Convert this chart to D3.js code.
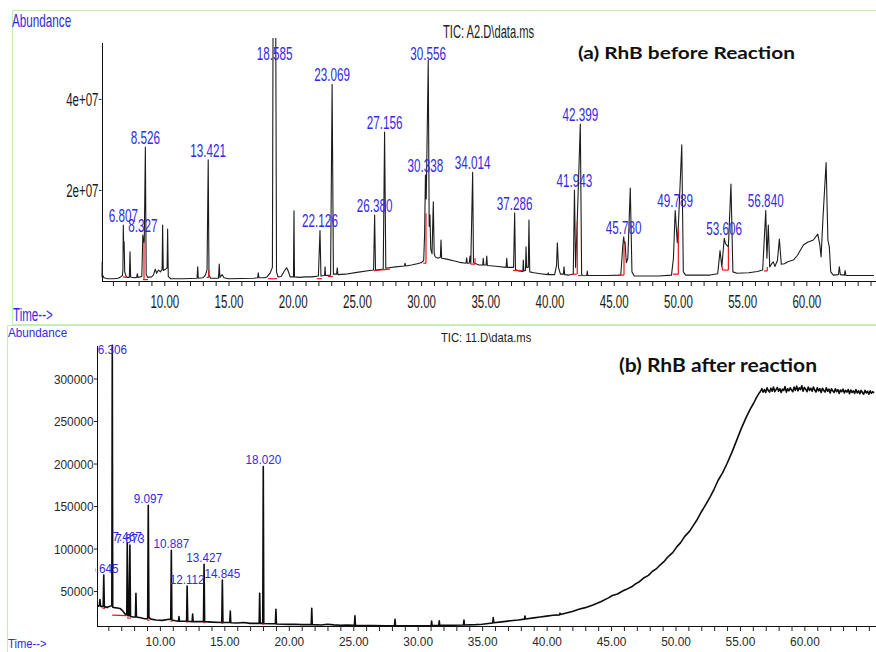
<!DOCTYPE html>
<html>
<head>
<meta charset="utf-8">
<script src="https://cdn.jsdelivr.net/npm/d3@7"></script>
<style>
  html, body { margin: 0; padding: 0; background: #fff; }
  svg { display: block; }
  text { font-family: "Liberation Sans", Arial, sans-serif; }
  .title { font-family: Lato, "Open Sans", sans-serif; font-weight: 700; }
</style>
</head>
<body>
<svg id="chart" width="876" height="652"></svg>
<script>
// ---------------- Panel (a): RhB before reaction ----------------
// TIC trace, [retention time (min), abundance (millions of counts)]
const traceA = [
  [5.11, 0.9], [5.14, 4.2], [5.18, 1.4], [5.3, 0.7], [5.6, 0.5], [6.0, 0.5], [6.4, 0.6],
  [6.6, 0.9], [6.74, 1.2], [6.78, 2.5], [6.84, 7.0], [6.87, 8.6], [6.92, 2.0], [7.05, 0.8],
  [7.28, 0.8], [7.33, 6.4], [7.38, 0.9], [7.6, 0.7], [7.85, 0.8], [7.9, 1.6], [7.95, 0.8],
  [8.25, 1.0], [8.40, 8.4], [8.44, 8.6], [8.59, 1.5], [8.7, 0.8], [9.0, 0.9], [9.15, 1.3],
  [9.3, 2.6], [9.4, 1.7], [9.55, 2.4], [9.7, 2.0], [9.83, 2.6], [9.87, 12.3], [9.92, 2.3],
  [10.1, 2.6], [10.22, 2.9], [10.26, 11.4], [10.31, 1.0], [10.5, 0.5], [11.0, 0.5], [11.5, 0.5],
  [12.0, 0.55], [12.55, 0.6], [12.6, 3.1], [12.65, 0.6], [13.0, 0.7], [13.2, 1.3], [13.33, 2.5],
  [13.48, 1.4], [13.6, 0.6], [14.22, 0.6], [14.28, 3.7], [14.33, 0.8], [14.5, 1.4], [14.65, 0.7],
  [15.0, 0.5], [16.0, 0.55], [17.0, 0.6], [17.27, 0.7], [17.32, 1.8], [17.37, 0.7], [17.8, 0.7],
  [18.0, 0.9], [18.25, 1.8], [18.42, 3.0], [18.47, 56.0], [18.68, 56.0], [18.74, 2.0], [18.85, 0.9],
  [19.1, 1.0], [19.35, 2.2], [19.53, 2.9], [19.65, 2.2], [19.8, 0.9], [20.06, 0.9], [20.10, 15.4],
  [20.14, 0.9], [20.5, 0.8], [21.0, 0.9], [21.5, 0.9], [22.0, 1.1], [22.2, 1.1], [22.48, 1.2],
  [22.52, 3.1], [22.56, 1.2], [22.95, 1.3], [23.17, 1.5], [23.42, 1.5], [23.47, 2.9], [23.52, 1.4],
  [24.1, 1.5], [25.0, 1.9], [26.0, 2.3], [26.3, 2.4], [26.45, 2.4], [27.05, 2.6], [27.25, 2.8],
  [27.5, 2.9], [28.0, 3.1], [28.7, 3.3], [28.75, 3.9], [28.8, 3.3], [29.25, 3.5], [29.7, 3.8],
  [30.0, 4.0], [30.2, 4.5], [30.27, 10.0], [30.40, 18.0], [30.63, 12.0], [30.69, 14.5],
  [30.75, 7.0], [30.85, 6.0], [30.95, 17.4], [31.02, 6.0], [31.1, 5.3], [31.3, 5.0], [31.5, 5.2],
  [31.55, 9.0], [31.6, 5.0], [32.0, 4.8], [32.6, 4.4], [33.0, 4.1], [33.5, 3.9], [33.55, 5.1],
  [33.6, 3.9], [33.75, 3.9], [33.81, 5.5], [33.87, 3.8], [34.08, 4.0], [34.5, 3.5], [34.8, 3.5],
  [34.84, 5.0], [34.88, 3.5], [35.06, 3.5], [35.11, 5.5], [35.16, 3.4], [35.6, 3.3], [36.0, 3.2],
  [36.62, 3.0], [36.67, 5.0], [36.72, 3.0], [37.2, 3.0], [37.35, 2.5], [37.6, 2.2], [37.92, 2.1],
  [37.96, 4.6], [38.0, 2.2], [38.13, 2.3], [38.17, 7.5], [38.22, 3.0], [38.35, 3.0], [38.4, 13.4],
  [38.46, 2.0], [38.8, 1.8], [39.3, 1.6], [39.86, 1.4], [39.9, 1.8], [39.94, 1.4], [40.4, 1.4],
  [40.55, 3.5], [40.61, 8.4], [40.7, 3.0], [40.85, 1.5], [41.08, 1.5], [41.13, 3.1], [41.18, 1.4],
  [41.5, 1.3], [41.85, 1.5], [42.03, 3.0], [42.16, 13.2], [42.5, 1.5], [42.6, 1.2], [42.9, 1.2],
  [42.94, 2.2], [42.98, 1.2], [43.5, 1.2], [44.5, 1.2], [45.55, 1.3], [45.7, 7.5], [45.83, 8.2],
  [45.88, 8.6], [45.98, 4.0], [46.1, 5.0], [46.29, 20.4], [46.42, 2.0], [46.6, 1.1], [47.5, 1.1],
  [48.5, 1.1], [49.5, 1.3], [49.65, 5.0], [49.95, 8.4], [50.03, 11.8], [50.30, 29.9], [50.42, 2.0],
  [50.6, 1.3], [51.5, 1.3], [52.5, 1.3], [53.1, 1.6], [53.28, 6.7], [53.42, 3.1], [53.7, 8.2],
  [53.8, 7.9], [53.93, 7.5], [54.13, 21.3], [54.28, 2.0], [54.6, 1.7], [55.5, 1.8], [56.2, 2.1],
  [56.6, 2.4], [56.93, 5.0], [57.04, 12.3], [57.15, 3.1], [57.3, 3.8], [57.43, 4.2], [57.55, 3.2],
  [57.75, 4.5], [57.9, 9.2], [58.05, 3.7], [58.3, 3.8], [58.6, 4.3], [58.99, 4.6], [59.3, 5.6],
  [59.77, 7.9], [60.1, 8.5], [60.55, 9.0], [60.89, 10.3], [61.05, 8.0], [61.15, 5.3], [61.3, 14.0],
  [61.54, 26.0], [61.68, 9.0], [61.79, 7.5], [61.9, 2.0], [62.1, 1.3], [62.5, 1.4], [62.57, 3.1],
  [62.65, 1.4], [62.97, 1.3], [63.02, 2.3], [63.08, 1.2], [63.5, 1.2], [64.5, 1.2], [65.27, 1.2]
];
// labelled peaks: retention time and apex abundance (millions)
const peakRtA   = [6.807, 8.327, 8.526, 13.421, 18.585, 22.126, 23.069, 26.380, 27.156, 30.338,
                   30.556, 34.014, 37.286, 41.943, 42.399, 45.780, 49.789, 53.606, 56.840];
const peakApexA = [12.3, 10.1, 29.4, 26.6, 58.0, 11.1, 43.2, 14.5, 32.7, 23.3,
                   48.5, 23.9, 15.0, 20.0, 34.5, 9.7, 15.5, 9.4, 15.5];
// integration baselines / drop lines (red)
const integrationA = [
  [[6.78, 0.9], [7.09, 0.8]],
  [[8.34, 0.3], [8.73, 0.3]], [[8.42, 0.3], [8.42, 8.6]],
  [[13.30, 0.8], [13.48, 0.8]], [[13.46, 0.8], [13.46, 2.4]],
  [[18.08, 0.5], [18.78, 0.5]],
  [[21.89, 0.5], [22.28, 0.5]], [[22.74, 1.0], [23.14, 1.0]],
  [[26.33, 2.3], [27.58, 2.6]],
  [[30.17, 3.9], [30.38, 3.9]], [[30.38, 3.9], [30.38, 14.9]],
  [[33.86, 3.7], [34.2, 3.7]], [[34.2, 3.7], [34.2, 5.0]],
  [[37.16, 2.3], [37.86, 2.3]],
  [[41.73, 1.5], [42.12, 1.5]], [[42.16, 1.5], [42.16, 13.2]], [[42.22, 1.2], [42.84, 1.2]],
  [[45.33, 1.3], [45.8, 1.3]], [[45.8, 1.3], [45.8, 8.6]],
  [[49.6, 1.5], [50.03, 1.5]], [[50.03, 1.5], [50.03, 11.8]],
  [[53.46, 2.4], [53.93, 2.4]], [[53.93, 2.4], [53.93, 7.5]], [[53.46, 2.4], [53.46, 3.1]],
  [[56.7, 2.2], [56.96, 2.2]], [[56.96, 2.2], [56.96, 3.1]]
];
const yTickValuesA = [20, 40];
const yTickLabelsA = ["2e+07", "4e+07"];

// ---------------- Panel (b): RhB after reaction ----------------
// TIC trace, [retention time (min), abundance (counts)]
const traceB = [
  [5.12, 33500], [5.2, 32000], [5.3, 33000], [5.35, 40000], [5.4, 32000], [5.5, 31500],
  [5.6, 32500], [5.69, 31000], [5.8, 31500], [5.9, 30500], [6.0, 31600], [6.1, 32000],
  [6.2, 32500], [6.27, 33000], [6.34, 31000], [6.5, 30500], [6.7, 30000], [6.9, 29500],
  [7.1, 27000], [7.3, 23000], [7.43, 22000], [7.52, 21000], [7.6, 21000], [7.72, 20000],
  [7.9, 19500], [8.1, 19500], [8.14, 47400], [8.18, 19500], [8.5, 18500], [8.8, 17500],
  [9.05, 17500], [9.15, 19000], [9.3, 17000], [9.7, 16000], [10.2, 15500], [10.6, 16500],
  [10.84, 17000], [10.93, 16000], [11.2, 15000], [11.44, 14500], [11.48, 20000], [11.52, 14500],
  [12.07, 14500], [12.16, 14500], [12.5, 14000], [12.54, 23000], [12.58, 14000], [13.38, 14000],
  [13.47, 14000], [14.0, 13500], [14.8, 13000], [14.89, 13000], [15.42, 13000], [15.46, 26600],
  [15.5, 12800], [16.0, 12500], [16.5, 13000], [17.0, 12000], [17.7, 12000], [17.74, 47400],
  [17.78, 12000], [17.98, 12000], [18.06, 11800], [18.5, 11500], [18.96, 11500], [19.0, 28500],
  [19.04, 11300], [19.5, 11000], [20.0, 10800], [20.5, 11000], [21.0, 10500], [21.74, 10500],
  [21.78, 29700], [21.82, 10500], [22.5, 10000], [23.0, 11000], [23.5, 10200], [24.0, 9800],
  [24.5, 10000], [25.09, 9800], [25.13, 21000], [25.17, 9800], [25.6, 9500], [26.5, 9300],
  [27.5, 9200], [28.2, 9300], [28.24, 16800], [28.28, 9300], [29.0, 9200], [30.0, 9000],
  [31.04, 9500], [31.08, 14800], [31.12, 9500], [31.63, 9500], [31.67, 15000], [31.71, 9600],
  [32.5, 9800], [33.55, 10000], [33.59, 16000], [33.63, 10000], [34.5, 10500], [35.0, 11000],
  [35.82, 12500], [35.86, 18700], [35.9, 12800], [36.5, 13800], [37.2, 15000], [37.8, 16000],
  [38.28, 17000], [38.32, 20700], [38.36, 17200], [39.0, 18500], [39.5, 19500], [40.0, 20500],
  [40.5, 21500], [41.0, 22000], [41.04, 24000], [41.1, 22500], [41.6, 24500], [42.0, 26000],
  [42.5, 28500], [43.0, 30500], [43.6, 33600], [44.2, 37500], [44.8, 42000], [45.1, 44800],
  [45.5, 46500], [45.9, 50000], [46.2, 52000], [46.6, 55000], [46.9, 58500], [47.2, 61000],
  [47.5, 65000], [47.9, 68500], [48.2, 73000], [48.5, 76000], [48.8, 80600], [49.1, 84500],
  [49.4, 90000], [49.8, 95500], [50.1, 102000], [50.4, 107000], [50.7, 114000], [51.1, 120500],
  [51.4, 127600], [51.7, 134500], [52.0, 143000], [52.3, 150500], [52.7, 161000], [53.0, 170000],
  [53.3, 180000], [53.65, 189000], [54.0, 200000], [54.4, 214000], [54.75, 227500], [55.1, 241000],
  [55.5, 254900], [55.8, 264000], [56.05, 270600], [56.3, 278000], [56.5, 283000],
  [56.6, 285000], [56.7, 288000], [56.8, 284000], [56.9, 287000], [57.0, 283500], [57.1, 289000],
  [57.2, 286000], [57.3, 284000], [57.4, 288500], [57.5, 285000], [57.6, 290000], [57.7, 284500],
  [57.8, 287000], [57.9, 289500], [58.0, 285000], [58.1, 288000], [58.2, 283500], [58.3, 287500],
  [58.4, 286000], [58.5, 290500], [58.6, 284000], [58.7, 288000], [58.8, 285500], [58.9, 289000],
  [59.0, 286500], [59.1, 284500], [59.2, 290000], [59.3, 286000], [59.4, 291000], [59.5, 285500],
  [59.6, 289000], [59.7, 287000], [59.8, 291500], [59.9, 285000], [60.0, 289500], [60.1, 287500],
  [60.2, 284500], [60.3, 290000], [60.4, 286000], [60.5, 288500], [60.6, 285000], [60.7, 290000],
  [60.8, 286500], [60.9, 284000], [61.0, 289000], [61.1, 285500], [61.2, 288000], [61.3, 283500],
  [61.4, 288500], [61.5, 286000], [61.6, 284000], [61.7, 289000], [61.8, 285000], [61.9, 287500],
  [62.0, 283000], [62.1, 288000], [62.2, 285500], [62.3, 283500], [62.4, 288000], [62.5, 284500],
  [62.6, 287000], [62.7, 282500], [62.8, 286500], [62.9, 284500], [63.0, 287500], [63.1, 283000],
  [63.2, 286000], [63.3, 284000], [63.4, 287000], [63.5, 282000], [63.6, 286500], [63.7, 283500],
  [63.8, 285500], [63.9, 282500], [64.0, 287000], [64.1, 283000], [64.2, 285500], [64.3, 282000],
  [64.4, 286000], [64.5, 283500], [64.6, 281500], [64.7, 286000], [64.8, 283000], [64.9, 285000],
  [65.0, 281500], [65.1, 285500], [65.2, 282500], [65.3, 284500], [65.4, 283000]
];
const peakRtB   = [5.645, 6.306, 7.467, 7.673, 9.097, 10.887, 12.112, 13.427, 14.845, 18.020];
const peakApexB = [68900, 339000, 107000, 104000, 151000, 98000, 56000, 81400, 63000, 196500];
const integrationB = [
  [[5.55, 30000], [5.75, 29500]],
  [[6.3, 21800], [7.45, 21000]],
  [[7.45, 18500], [7.75, 18000]],
  [[9.0, 16000], [9.2, 15500]],
  [[10.8, 15000], [11.0, 14500]],
  [[12.05, 13500], [12.2, 13500]],
  [[13.35, 13000], [13.5, 13000]],
  [[14.78, 12200], [14.92, 12200]],
  [[17.95, 11200], [18.12, 11000]]
];
const yTickValuesB = [50000, 100000, 150000, 200000, 250000, 300000];
const yTickLabelsB = ["50000", "100000", "150000", "200000", "250000", "300000"];

// shared time axis
const xTickValues = [10, 15, 20, 25, 30, 35, 40, 45, 50, 55, 60];
const xTickLabels = ["10.00", "15.00", "20.00", "25.00", "30.00", "35.00", "40.00", "45.00", "50.00", "55.00", "60.00"];
const minuteTicks = d3.range(6, 66);

// ---------------- drawing ----------------
const svg = d3.select("#chart");
const BLUE = "#3428e6";
const GREEN = "#c4efb4";

// text squeezed horizontally, the way the instrument software prints it
function squeezed(g, x, y, str, size, sx, color, anchor) {
  return g.append("text")
    .attr("transform", `translate(${x},${y}) scale(${sx},1)`)
    .attr("text-anchor", anchor || "start")
    .style("font-size", size + "px")
    .style("fill", color)
    .text(str);
}

function panel(cfg) {
  const g = svg.append("g");
  const x = d3.scaleLinear().domain(cfg.xDomain).range(cfg.xRange);
  const y = d3.scaleLinear().domain(cfg.yDomain).range(cfg.yRange);
  const clipId = "clip-" + cfg.id;
  svg.append("clipPath").attr("id", clipId).append("rect")
    .attr("x", cfg.xRange[0]).attr("y", cfg.yRange[1] - 4)
    .attr("width", 876 - cfg.xRange[0]).attr("height", cfg.yRange[0] - cfg.yRange[1] + 4);
  const labelClipId = "labclip-" + cfg.id;
  svg.append("clipPath").attr("id", labelClipId).append("rect")
    .attr("x", cfg.xRange[0] - 2).attr("y", cfg.yRange[1] - 6)
    .attr("width", 878 - cfg.xRange[0]).attr("height", cfg.yRange[0] - cfg.yRange[1] + 6);

  // merge labelled apices into the trace
  const series = cfg.trace.concat(cfg.peakRt.map((t, i) => [t, cfg.peakApex[i]]))
    .sort((a, b) => a[0] - b[0]);

  const line = d3.line().x(d => x(d[0])).y(d => y(d[1]));

  // x axis: minute ticks, labels every 5 min
  const xAxis = g.append("g")
    .attr("transform", `translate(0,${cfg.yRange[0]})`)
    .call(d3.axisBottom(x).tickValues(minuteTicks).tickSize(5).tickSizeOuter(0)
      .tickFormat(d => { const i = xTickValues.indexOf(d); return i >= 0 ? xTickLabels[i] : ""; }));
  xAxis.select(".domain").attr("stroke", "#111").attr("d", `M${cfg.xRange[0]},0.5H876`);
  xAxis.selectAll(".tick line").attr("stroke", "#222");
  xAxis.selectAll(".tick text")
    .attr("y", 0).attr("dy", 0)
    .attr("transform", `translate(0,${cfg.xLabelOffset}) scale(${cfg.tickSx},1)`)
    .style("font-size", cfg.tickSize + "px").style("fill", cfg.tickColor);

  // y axis
  const yAxis = g.append("g")
    .attr("transform", `translate(${cfg.xRange[0]},0)`)
    .call(d3.axisLeft(y).tickValues(cfg.yTicks).tickSize(cfg.yTickLen).tickPadding(0).tickSizeOuter(0)
      .tickFormat((d, i) => cfg.yLabels[i]));
  yAxis.select(".domain").attr("stroke", "#111");
  yAxis.selectAll(".tick line").attr("stroke", "#222");
  yAxis.selectAll(".tick text")
    .attr("x", 0).attr("dy", "0.35em")
    .attr("transform", `translate(${-cfg.yTickLen - 0.5},0) scale(${cfg.tickSx},1)`)
    .style("font-size", cfg.tickSize + "px").style("fill", cfg.tickColor);
  g.selectAll(".domain").attr("shape-rendering", "crispEdges");

  // trace
  g.append("path").datum(series)
    .attr("clip-path", `url(#${clipId})`)
    .attr("d", line)
    .attr("fill", "none").attr("stroke", cfg.traceColor)
    .attr("stroke-width", cfg.traceWidth).attr("stroke-linejoin", "round");

  // integration marks
  g.append("g").attr("clip-path", `url(#${clipId})`)
    .selectAll("path").data(cfg.integration).join("path")
    .attr("d", line).attr("fill", "none").attr("stroke", "#e8181c").attr("stroke-width", 1.2);

  // peak labels: centred over the apex, kept inside the frame
  const lab = g.append("g").attr("clip-path", `url(#${labelClipId})`);
  cfg.peakRt.forEach((t, i) => {
    const py = Math.max(y(cfg.peakApex[i]) - cfg.labelGap, cfg.labelMinY);
    squeezed(lab, x(t), py, d3.format(".3f")(t), cfg.labelSize, cfg.labelSx, BLUE, "middle");
  });
  return { x, y };
}

// frames
svg.append("path").attr("d", "M876,10.5H12.5V324.5H876").attr("fill", "none").attr("stroke", GREEN);
svg.append("path").attr("d", "M876,325.5H7.5V652").attr("fill", "none").attr("stroke", GREEN);

panel({
  id: "a", trace: traceA, peakRt: peakRtA, peakApex: peakApexA, integration: integrationA,
  xDomain: [5.11, 65.27], xRange: [101.5, 874],
  yDomain: [0, 52.5], yRange: [281, 42],
  yTicks: yTickValuesA, yLabels: yTickLabelsA, yTickLen: 2.5,
  tickSize: 18, tickSx: 0.64, tickColor: "#1a1a1a", xLabelOffset: 27,
  traceColor: "#1c1c1c", traceWidth: 1.1,
  labelGap: 3, labelMinY: 60, labelSize: 18, labelSx: 0.65
});

panel({
  id: "b", trace: traceB, peakRt: peakRtB, peakApex: peakApexB, integration: integrationB,
  xDomain: [5.12, 65.4], xRange: [97, 874],
  yDomain: [8900, 339400], yRange: [626, 345],
  yTicks: yTickValuesB, yLabels: yTickLabelsB, yTickLen: 3,
  tickSize: 13.5, tickSx: 0.88, tickColor: "#2a2a2a", xLabelOffset: 20,
  traceColor: "#0d0d0d", traceWidth: 1.6,
  labelGap: 2, labelMinY: 354, labelSize: 13, labelSx: 0.9
});

// headers and axis captions
squeezed(svg, 12, 27, "Abundance", 18, 0.65, BLUE);
squeezed(svg, 13, 321, "Time-->", 19, 0.61, BLUE);
squeezed(svg, 443, 38, "TIC: A2.D\\data.ms", 18, 0.62, "#222");
svg.append("text").attr("class", "title").attr("x", 578).attr("y", 59)
  .attr("textLength", 217).attr("lengthAdjust", "spacingAndGlyphs")
  .style("font-size", "17.5px").style("fill", "#111").text("(a) RhB before Reaction");

squeezed(svg, 8, 337, "Abundance", 13, 0.9, BLUE);
squeezed(svg, 8, 648, "Time-->", 12.5, 0.9, BLUE);
squeezed(svg, 441, 342, "TIC: 11.D\\data.ms", 12.5, 0.9, "#222");
svg.append("text").attr("class", "title").attr("x", 619).attr("y", 372)
  .attr("textLength", 198).attr("lengthAdjust", "spacingAndGlyphs")
  .style("font-size", "18px").style("fill", "#111").text("(b) RhB after reaction");
</script>
</body>
</html>
